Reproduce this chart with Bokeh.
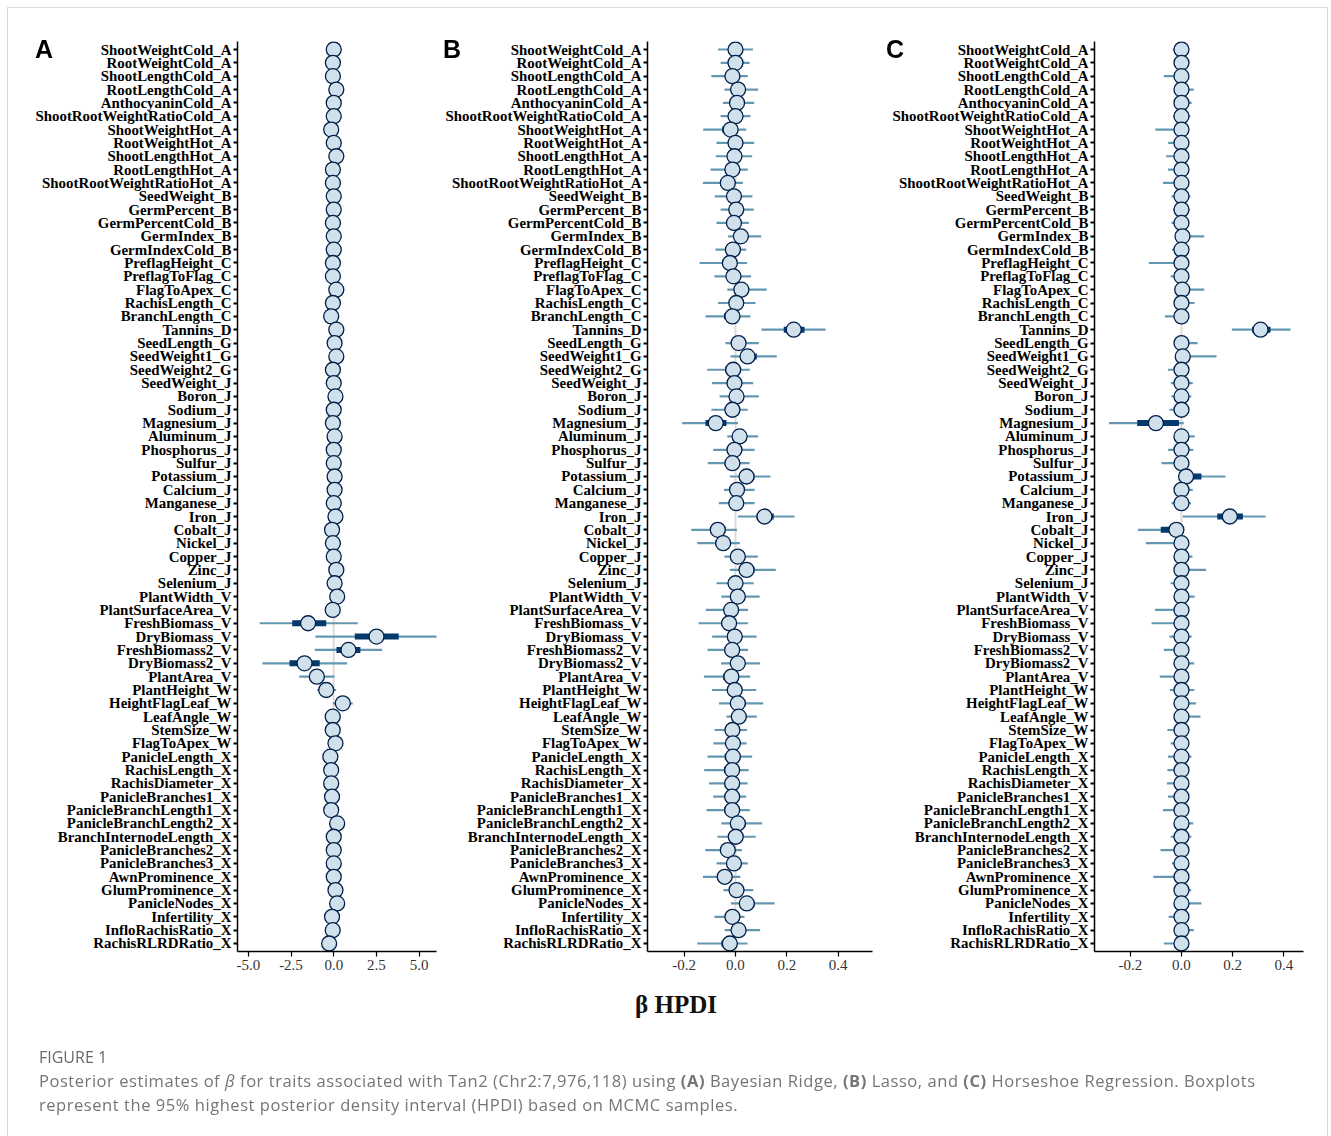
from bokeh.plotting import figure
from bokeh.models import FactorRange, Range1d, FixedTicker, Span, Div, ColumnDataSource
from bokeh.layouts import row, column
from bokeh.embed import file_html
from bokeh.resources import INLINE

traits = [
    "ShootWeightCold_A", "RootWeightCold_A", "ShootLengthCold_A", "RootLengthCold_A",
    "AnthocyaninCold_A", "ShootRootWeightRatioCold_A", "ShootWeightHot_A", "RootWeightHot_A",
    "ShootLengthHot_A", "RootLengthHot_A", "ShootRootWeightRatioHot_A", "SeedWeight_B",
    "GermPercent_B", "GermPercentCold_B", "GermIndex_B", "GermIndexCold_B",
    "PreflagHeight_C", "PreflagToFlag_C", "FlagToApex_C", "RachisLength_C",
    "BranchLength_C", "Tannins_D", "SeedLength_G", "SeedWeight1_G",
    "SeedWeight2_G", "SeedWeight_J", "Boron_J", "Sodium_J",
    "Magnesium_J", "Aluminum_J", "Phosphorus_J", "Sulfur_J",
    "Potassium_J", "Calcium_J", "Manganese_J", "Iron_J",
    "Cobalt_J", "Nickel_J", "Copper_J", "Zinc_J",
    "Selenium_J", "PlantWidth_V", "PlantSurfaceArea_V", "FreshBiomass_V",
    "DryBiomass_V", "FreshBiomass2_V", "DryBiomass2_V", "PlantArea_V",
    "PlantHeight_W", "HeightFlagLeaf_W", "LeafAngle_W", "StemSize_W",
    "FlagToApex_W", "PanicleLength_X", "RachisLength_X", "RachisDiameter_X",
    "PanicleBranches1_X", "PanicleBranchLength1_X", "PanicleBranchLength2_X", "BranchInternodeLength_X",
    "PanicleBranches2_X", "PanicleBranches3_X", "AwnProminence_X", "GlumProminence_X",
    "PanicleNodes_X", "Infertility_X", "InfloRachisRatio_X", "RachisRLRDRatio_X",
]

panel_letters = ["A", "B", "C"]

# ---------------- Panel A : Bayesian Ridge ----------------
a_med = [0.00, -0.05, -0.05, 0.15, 0.00, 0.00, -0.15, 0.00, 0.15, -0.05,
         -0.05, 0.00, 0.00, -0.05, 0.00, 0.00, -0.05, -0.05, 0.15, -0.05,
         -0.15, 0.15, 0.05, 0.15, -0.05, 0.00, 0.10, 0.00, -0.05, 0.05,
         0.00, 0.00, 0.05, 0.05, 0.00, 0.10, -0.10, -0.05, 0.00, 0.15,
         0.05, 0.20, -0.06, -1.50, 2.50, 0.86, -1.71, -0.99, -0.44, 0.53,
         -0.06, -0.06, 0.10, -0.20, -0.15, -0.15, -0.10, -0.15, 0.20, 0.00,
         0.00, 0.00, 0.00, 0.10, 0.20, -0.10, -0.06, -0.27]
a_lo = [-0.30, -0.35, -0.35, -0.15, -0.30, -0.30, -0.45, -0.30, -0.15, -0.35,
        -0.35, -0.30, -0.30, -0.35, -0.30, -0.30, -0.35, -0.35, -0.15, -0.35,
        -0.45, -0.15, -0.25, -0.15, -0.35, -0.30, -0.20, -0.30, -0.35, -0.25,
        -0.30, -0.30, -0.25, -0.25, -0.30, -0.20, -0.40, -0.35, -0.30, -0.15,
        -0.25, -0.10, -0.36, -4.33, -1.07, -1.11, -4.17, -2.02, -0.97, -0.06,
        -0.36, -0.36, -0.20, -0.50, -0.45, -0.45, -0.40, -0.45, -0.10, -0.30,
        -0.30, -0.30, -0.30, -0.20, -0.10, -0.40, -0.36, -0.57]
a_hi = [0.30, 0.25, 0.25, 0.45, 0.30, 0.30, 0.15, 0.30, 0.45, 0.25,
        0.25, 0.30, 0.30, 0.25, 0.30, 0.30, 0.25, 0.25, 0.45, 0.25,
        0.15, 0.45, 0.35, 0.45, 0.25, 0.30, 0.40, 0.30, 0.25, 0.35,
        0.30, 0.30, 0.35, 0.35, 0.30, 0.40, 0.20, 0.25, 0.30, 0.45,
        0.35, 0.50, 0.24, 1.40, 6.05, 2.83, 0.78, 0.04, 0.14, 1.11,
        0.24, 0.24, 0.40, 0.10, 0.15, 0.15, 0.20, 0.15, 0.50, 0.30,
        0.30, 0.30, 0.30, 0.40, 0.50, 0.20, 0.24, 0.03]
a_ilo = [-0.10, -0.15, -0.15, 0.05, -0.10, -0.10, -0.25, -0.10, 0.05, -0.15,
         -0.15, -0.10, -0.10, -0.15, -0.10, -0.10, -0.15, -0.15, 0.05, -0.15,
         -0.25, 0.05, -0.05, 0.05, -0.15, -0.10, 0.00, -0.10, -0.15, -0.05,
         -0.10, -0.10, -0.05, -0.05, -0.10, 0.00, -0.20, -0.15, -0.10, 0.05,
         -0.05, 0.10, -0.16, -2.43, 1.23, 0.16, -2.59, -1.30, -0.60, 0.36,
         -0.16, -0.16, 0.00, -0.30, -0.25, -0.25, -0.20, -0.25, 0.10, -0.10,
         -0.10, -0.10, -0.10, 0.00, 0.10, -0.20, -0.16, -0.37]
a_ihi = [0.10, 0.05, 0.05, 0.25, 0.10, 0.10, -0.05, 0.10, 0.25, 0.05,
         0.05, 0.10, 0.10, 0.05, 0.10, 0.10, 0.05, 0.05, 0.25, 0.05,
         -0.05, 0.25, 0.15, 0.25, 0.05, 0.10, 0.20, 0.10, 0.05, 0.15,
         0.10, 0.10, 0.15, 0.15, 0.10, 0.20, 0.00, 0.05, 0.10, 0.25,
         0.15, 0.30, 0.04, -0.44, 3.80, 1.56, -0.82, -0.70, -0.28, 0.70,
         0.04, 0.04, 0.20, -0.10, -0.05, -0.05, 0.00, -0.05, 0.30, 0.10,
         0.10, 0.10, 0.10, 0.20, 0.30, 0.00, 0.04, -0.17]
a_ticks = [-5.0, -2.5, 0.0, 2.5, 5.0]
a_tick_labels = ["-5.0", "-2.5", "0.0", "2.5", "5.0"]

# ---------------- Panel B : Lasso ----------------
b_med = [0.000, 0.000, -0.012, 0.010, 0.006, 0.000, -0.019, 0.000, -0.004, -0.012,
         -0.030, -0.006, 0.003, -0.006, 0.021, -0.010, -0.022, -0.008, 0.023, 0.003,
         -0.012, 0.227, 0.012, 0.047, -0.009, -0.004, 0.004, -0.012, -0.077, 0.016,
         -0.004, -0.012, 0.043, 0.006, 0.003, 0.113, -0.069, -0.048, 0.009, 0.043,
         0.000, 0.009, -0.017, -0.025, -0.003, -0.013, 0.009, -0.016, -0.003, 0.009,
         0.013, -0.012, -0.010, -0.010, -0.013, -0.013, -0.013, -0.013, 0.009, 0.001,
         -0.030, -0.006, -0.042, 0.004, 0.044, -0.012, 0.012, -0.022]
b_lo = [-0.068, -0.058, -0.094, -0.043, -0.049, -0.058, -0.126, -0.074, -0.077, -0.097,
        -0.127, -0.081, -0.058, -0.074, -0.029, -0.078, -0.140, -0.082, -0.032, -0.068,
        -0.117, 0.101, -0.039, -0.019, -0.110, -0.092, -0.062, -0.094, -0.208, -0.032,
        -0.087, -0.108, -0.022, -0.045, -0.065, 0.009, -0.172, -0.149, -0.043, -0.022,
        -0.074, -0.055, -0.116, -0.144, -0.091, -0.109, -0.056, -0.123, -0.092, -0.064,
        -0.035, -0.081, -0.086, -0.109, -0.122, -0.103, -0.087, -0.113, -0.055, -0.070,
        -0.118, -0.074, -0.127, -0.047, -0.018, -0.082, -0.042, -0.149]
b_hi = [0.068, 0.055, 0.048, 0.088, 0.073, 0.058, 0.042, 0.073, 0.065, 0.048,
        0.029, 0.066, 0.071, 0.052, 0.100, 0.042, 0.045, 0.061, 0.122, 0.078,
        0.058, 0.351, 0.091, 0.161, 0.056, 0.069, 0.091, 0.048, 0.010, 0.088,
        0.074, 0.055, 0.136, 0.074, 0.075, 0.230, 0.006, 0.017, 0.087, 0.157,
        0.071, 0.094, 0.049, 0.049, 0.082, 0.049, 0.095, 0.057, 0.081, 0.108,
        0.083, 0.045, 0.043, 0.065, 0.051, 0.047, 0.042, 0.056, 0.104, 0.079,
        0.025, 0.048, 0.019, 0.069, 0.152, 0.035, 0.096, 0.047]
b_ilo = [-0.022, -0.019, -0.038, -0.008, -0.012, -0.019, -0.052, -0.024, -0.028, -0.040,
         -0.060, -0.030, -0.016, -0.028, 0.005, -0.032, -0.052, -0.032, 0.000, -0.020,
         -0.045, 0.188, -0.005, 0.020, -0.040, -0.030, -0.018, -0.038, -0.117, -0.002,
         -0.030, -0.042, 0.018, -0.012, -0.020, 0.082, -0.097, -0.078, -0.010, 0.018,
         -0.024, -0.014, -0.045, -0.055, -0.032, -0.042, -0.014, -0.048, -0.032, -0.016,
         -0.004, -0.035, -0.035, -0.042, -0.045, -0.042, -0.037, -0.044, -0.014, -0.022,
         -0.058, -0.028, -0.068, -0.013, 0.018, -0.035, -0.006, -0.055]
b_ihi = [0.022, 0.018, 0.008, 0.035, 0.030, 0.019, 0.002, 0.024, 0.018, 0.008,
         -0.010, 0.017, 0.025, 0.012, 0.045, 0.007, 0.000, 0.015, 0.050, 0.026,
         0.012, 0.269, 0.036, 0.083, 0.012, 0.020, 0.030, 0.008, -0.035, 0.040,
         0.022, 0.010, 0.074, 0.030, 0.026, 0.149, -0.039, -0.025, 0.033, 0.074,
         0.023, 0.035, 0.006, 0.002, 0.024, 0.008, 0.036, 0.008, 0.024, 0.040,
         0.036, 0.007, 0.008, 0.014, 0.008, 0.007, 0.005, 0.010, 0.040, 0.026,
         -0.011, 0.012, -0.022, 0.025, 0.075, 0.004, 0.038, 0.002]
b_ticks = [-0.2, 0.0, 0.2, 0.4]
b_tick_labels = ["-0.2", "0.0", "0.2", "0.4"]

# ---------------- Panel C : Horseshoe ----------------
c_med = [0.000, 0.000, 0.000, 0.000, 0.000, 0.000, 0.000, 0.000, 0.000, 0.000,
         0.000, 0.000, 0.000, 0.000, 0.004, 0.000, 0.000, 0.000, 0.003, 0.000,
         0.000, 0.309, 0.000, 0.005, 0.000, 0.000, 0.000, 0.000, -0.100, 0.000,
         0.000, 0.000, 0.018, 0.000, 0.000, 0.189, -0.020, 0.000, 0.000, 0.000,
         0.000, 0.000, 0.000, 0.000, 0.000, 0.000, 0.000, 0.000, 0.000, 0.000,
         0.000, 0.000, 0.000, 0.000, 0.000, 0.000, 0.000, 0.000, 0.000, 0.000,
         0.000, 0.000, 0.000, 0.000, 0.000, 0.000, 0.000, 0.000]
c_lo = [-0.034, -0.029, -0.069, -0.020, -0.025, -0.033, -0.102, -0.052, -0.060, -0.053,
        -0.072, -0.039, -0.033, -0.039, -0.020, -0.037, -0.128, -0.042, -0.020, -0.025,
        -0.065, 0.197, -0.020, -0.015, -0.053, -0.042, -0.039, -0.047, -0.283, -0.020,
        -0.052, -0.078, -0.010, -0.020, -0.039, 0.005, -0.170, -0.139, -0.020, -0.020,
        -0.043, -0.020, -0.104, -0.117, -0.047, -0.069, -0.020, -0.085, -0.046, -0.020,
        -0.020, -0.055, -0.042, -0.053, -0.055, -0.057, -0.053, -0.072, -0.020, -0.042,
        -0.082, -0.037, -0.110, -0.020, -0.020, -0.050, -0.020, -0.069]
c_hi = [0.020, 0.020, 0.025, 0.048, 0.040, 0.035, 0.020, 0.020, 0.020, 0.020,
        0.020, 0.035, 0.033, 0.020, 0.089, 0.020, 0.020, 0.020, 0.089, 0.051,
        0.020, 0.426, 0.063, 0.137, 0.020, 0.044, 0.038, 0.020, 0.009, 0.052,
        0.046, 0.020, 0.172, 0.044, 0.037, 0.329, 0.010, 0.015, 0.043, 0.096,
        0.020, 0.051, 0.020, 0.020, 0.040, 0.020, 0.050, 0.020, 0.050, 0.057,
        0.074, 0.020, 0.020, 0.039, 0.020, 0.020, 0.020, 0.020, 0.046, 0.039,
        0.020, 0.020, 0.020, 0.038, 0.078, 0.020, 0.048, 0.020]
c_ilo = [-0.008, -0.008, -0.012, -0.005, -0.006, -0.008, -0.015, -0.010, -0.010, -0.010,
         -0.012, -0.008, -0.008, -0.008, -0.003, -0.008, -0.018, -0.008, -0.003, -0.005,
         -0.012, 0.276, -0.005, -0.002, -0.010, -0.008, -0.008, -0.010, -0.173, -0.005,
         -0.010, -0.012, 0.000, -0.005, -0.008, 0.140, -0.081, -0.020, -0.005, -0.004,
         -0.008, -0.005, -0.016, -0.017, -0.009, -0.012, -0.005, -0.014, -0.009, -0.005,
         -0.005, -0.010, -0.008, -0.010, -0.010, -0.010, -0.010, -0.012, -0.005, -0.008,
         -0.013, -0.008, -0.016, -0.005, -0.005, -0.009, -0.005, -0.012]
c_ihi = [0.005, 0.005, 0.006, 0.010, 0.009, 0.008, 0.005, 0.005, 0.005, 0.005,
         0.005, 0.008, 0.008, 0.005, 0.018, 0.005, 0.005, 0.005, 0.018, 0.010,
         0.005, 0.348, 0.012, 0.025, 0.005, 0.008, 0.008, 0.005, -0.010, 0.010,
         0.009, 0.005, 0.078, 0.009, 0.008, 0.240, 0.000, 0.004, 0.009, 0.018,
         0.005, 0.010, 0.005, 0.005, 0.008, 0.005, 0.010, 0.005, 0.009, 0.011,
         0.014, 0.005, 0.005, 0.008, 0.005, 0.005, 0.005, 0.005, 0.009, 0.008,
         0.005, 0.005, 0.005, 0.008, 0.014, 0.005, 0.009, 0.005]
c_ticks = [-0.2, 0.0, 0.2, 0.4]
c_tick_labels = ["-0.2", "0.0", "0.2", "0.4"]

SERIF = "Liberation Serif"


def make_panel(med, lo, hi, ilo, ihi, xr, ticks, tick_labels,
               frame_w, border_l, border_r):
    src = ColumnDataSource(dict(trait=traits, med=med, lo=lo, hi=hi, ilo=ilo, ihi=ihi))
    p = figure(frame_width=frame_w, frame_height=910,
               y_range=FactorRange(factors=traits[::-1], range_padding=0.1,
                                   range_padding_units="absolute"),
               x_range=Range1d(xr[0], xr[1]),
               output_backend="svg", toolbar_location=None,
               min_border_left=border_l, min_border_right=border_r,
               min_border_top=41, min_border_bottom=31)
    p.add_layout(Span(location=0, dimension="height", line_color="#dcdcdc",
                      line_width=2, level="underlay"))
    p.segment(x0="lo", y0="trait", x1="hi", y1="trait", source=src,
              line_color="#6497b1", line_width=2.2)
    p.segment(x0="ilo", y0="trait", x1="ihi", y1="trait", source=src,
              line_color="#03396c", line_width=6)
    p.scatter(x="med", y="trait", source=src, size=15, fill_color="#d1e1ec",
              line_color="#011f4b", line_width=1.3)

    p.xgrid.visible = False
    p.ygrid.visible = False
    p.outline_line_color = None
    p.background_fill_color = "white"
    p.border_fill_color = "white"

    p.yaxis.major_label_text_font = SERIF
    p.yaxis.major_label_text_font_style = "bold"
    p.yaxis.major_label_text_font_size = "14.9px"
    p.yaxis.major_label_text_color = "black"
    p.yaxis.major_label_standoff = 2
    p.yaxis.major_tick_out = 4
    p.yaxis.major_tick_in = 0
    p.yaxis.major_tick_line_width = 2
    p.yaxis.axis_line_width = 1.5

    p.xaxis.ticker = FixedTicker(ticks=ticks)
    p.xaxis.major_label_overrides = {t: l for t, l in zip(ticks, tick_labels)}
    p.xaxis.major_label_text_font = SERIF
    p.xaxis.major_label_text_font_size = "15px"
    p.xaxis.major_label_text_color = "#333333"
    p.xaxis.major_label_standoff = 3
    p.xaxis.major_tick_out = 5
    p.xaxis.major_tick_in = 0
    p.xaxis.major_tick_line_width = 1.2
    p.xaxis.axis_line_width = 1.5
    p.xaxis.minor_tick_line_color = None
    return p


pA = make_panel(a_med, a_lo, a_hi, a_ilo, a_ihi, (-5.63, 6.01), a_ticks, a_tick_labels,
                199, 237, 4)
pB = make_panel(b_med, b_lo, b_hi, b_ilo, b_ihi, (-0.343, 0.534), b_ticks, b_tick_labels,
                225, 207, 12)
pC = make_panel(c_med, c_lo, c_hi, c_ilo, c_ihi, (-0.340, 0.477), c_ticks, c_tick_labels,
                209, 210, 10)

letter_left = [35, 443, 886]
overlay = ('<div style="position:fixed;left:7px;top:7px;width:1321px;height:1200px;'
           'border:1px solid #dadada;pointer-events:none;"></div>')
for letter, lx in zip(panel_letters, letter_left):
    overlay += ('<div style="position:fixed;left:%dpx;top:37px;font-family:\'Liberation Sans\';'
                'font-weight:bold;font-size:25px;line-height:25px;color:#000;">%s</div>' % (lx, letter))

beta = Div(text=overlay + '<div style="margin-left:52px;width:1248px;text-align:center;padding-top:8px;'
                'font-family:\'Liberation Serif\';font-weight:bold;font-size:25px;line-height:30px;'
                'color:#111;">β HPDI</div>',
           width=1313, height=40, margin=(0, 0, 0, 0))

caption = Div(text=(
    '<div style="padding:23px 0 0 39px;font-family:\'Open Sans\';color:#757575;white-space:nowrap;">'
    '<div style="font-size:16px;line-height:24px;color:#6a6a6a;">FIGURE 1</div>'
    '<div style="font-size:16.5px;line-height:24px;letter-spacing:0.55px;">Posterior estimates of '
    '<i>β</i> for traits associated with Tan2 (Chr2:7,976,118) using <b>(A)</b> Bayesian Ridge, '
    '<b>(B)</b> Lasso, and <b>(C)</b> Horseshoe Regression. Boxplots<br>represent the 95% highest '
    'posterior density interval (HPDI) based on MCMC samples.</div></div>'),
    width=1313, height=114, margin=(0, 0, 0, 0))

layout = column(row(pA, pB, pC), beta, caption)

open("out.html", "w").write(file_html(layout, INLINE))
